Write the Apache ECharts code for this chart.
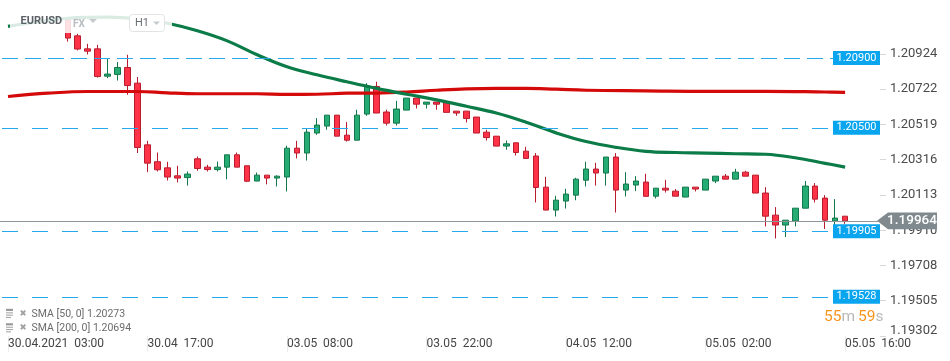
<!DOCTYPE html>
<html>
<head>
<meta charset="utf-8">
<script src="https://cdn.jsdelivr.net/npm/echarts@6/dist/echarts.min.js"></script>
<style>
html,body{margin:0;padding:0;background:#fff;}
#main{width:950px;height:361px;}
</style>
</head>
<body>
<div id="main"></div>
<script>
// ---------- DATA ----------
const categories = [
 "30.04 03:00","30.04 04:00","30.04 05:00","30.04 06:00","30.04 07:00","30.04 08:00","30.04 09:00","30.04 10:00",
 "30.04 11:00","30.04 12:00","30.04 13:00","30.04 14:00","30.04 15:00","30.04 16:00","30.04 17:00","30.04 18:00",
 "30.04 19:00","30.04 20:00","30.04 21:00","30.04 22:00",
 "03.05 00:00","03.05 01:00","03.05 02:00","03.05 03:00","03.05 04:00","03.05 05:00","03.05 06:00","03.05 07:00",
 "03.05 08:00","03.05 09:00","03.05 10:00","03.05 11:00","03.05 12:00","03.05 13:00","03.05 14:00","03.05 15:00",
 "03.05 16:00","03.05 17:00","03.05 18:00","03.05 19:00","03.05 20:00","03.05 21:00","03.05 22:00","03.05 23:00",
 "04.05 00:00","04.05 01:00","04.05 02:00","04.05 03:00","04.05 04:00","04.05 05:00","04.05 06:00","04.05 07:00",
 "04.05 08:00","04.05 09:00","04.05 10:00","04.05 11:00","04.05 12:00","04.05 13:00","04.05 14:00","04.05 15:00",
 "04.05 16:00","04.05 17:00","04.05 18:00","04.05 19:00","04.05 20:00","04.05 21:00","04.05 22:00","04.05 23:00",
 "05.05 00:00","05.05 01:00","05.05 02:00","05.05 03:00","05.05 04:00","05.05 05:00","05.05 06:00","05.05 07:00",
 "05.05 08:00","05.05 09:00","05.05 10:00","05.05 11:00","05.05 12:00","05.05 13:00","05.05 14:00","05.05 15:00",
 "05.05 16:00","05.05 17:00","05.05 18:00","05.05 19:00"
];
const xTickLabels = ["30.04.2021  03:00","30.04  17:00","03.05  08:00","03.05  22:00","04.05  12:00","05.05  02:00","05.05  16:00"];
const yTickValues = [1.19302,1.19505,1.19708,1.19910,1.20113,1.20316,1.20519,1.20722,1.20924];

const open = [null,null,null,null,null,null,
 1.21120,1.21028,1.20953,1.20953,1.20796,1.20806,1.20846,1.20756,1.20401,1.20304,
 1.20269,1.20223,1.20213,1.20321,1.20273,1.20259,1.20273,1.20344,1.20281,1.20193,
 1.20227,1.20210,1.20216,1.20382,1.20354,1.20469,1.20509,1.20572,1.20457,1.20428,
 1.20578,1.20737,1.20590,1.20526,1.20601,1.20670,1.20635,1.20647,1.20646,1.20595,
 1.20595,1.20561,1.20474,1.20451,1.20394,1.20413,1.20365,1.20337,1.20158,1.20026,
 1.20078,1.20112,1.20198,1.20262,1.20239,1.20331,1.20141,1.20170,1.20187,1.20106,
 1.20152,1.20135,1.20101,1.20158,1.20141,1.20193,1.20221,1.20204,1.20244,1.20227,
 1.20124,1.19997,1.19940,1.19964,1.20037,1.20164,1.20095,1.19964,1.19991];
const close = [null,null,null,null,null,null,
 1.21015,1.20952,1.20940,1.20794,1.20808,1.20846,1.20742,1.20386,1.20296,1.20258,
 1.20216,1.20210,1.20233,1.20265,1.20259,1.20273,1.20344,1.20273,1.20192,1.20227,
 1.20210,1.20221,1.20382,1.20354,1.20474,1.20515,1.20572,1.20451,1.20428,1.20572,
 1.20741,1.20584,1.20526,1.20607,1.20670,1.20635,1.20647,1.20635,1.20588,1.20584,
 1.20553,1.20469,1.20443,1.20394,1.20407,1.20357,1.20323,1.20156,1.20026,1.20083,
 1.20118,1.20204,1.20262,1.20239,1.20331,1.20141,1.20176,1.20193,1.20105,1.20152,
 1.20141,1.20106,1.20158,1.20147,1.20204,1.20221,1.20204,1.20244,1.20221,1.20124,
 1.19991,1.19940,1.19968,1.20037,1.20164,1.20089,1.19968,1.19980,1.19964];
const low = [null,null,null,null,null,null,
 1.20995,1.20944,1.20921,1.20788,1.20785,1.20771,1.20689,1.20354,1.20244,1.20248,
 1.20196,1.20185,1.20167,1.20252,1.20248,1.20248,1.20203,1.20273,1.20187,1.20192,
 1.20174,1.20162,1.20133,1.20323,1.20311,1.20459,1.20488,1.20451,1.20420,1.20428,
 1.20568,1.20584,1.20512,1.20512,1.20601,1.20610,1.20610,1.20603,1.20588,1.20568,
 1.20530,1.20469,1.20426,1.20394,1.20373,1.20340,1.20323,1.20070,1.20026,1.19989,
 1.20035,1.20083,1.20162,1.20167,1.20167,1.20012,1.20104,1.20135,1.20105,1.20093,
 1.20127,1.20106,1.20101,1.20133,1.20141,1.20181,1.20204,1.20204,1.20221,1.20124,
 1.19932,1.19863,1.19871,1.19932,1.20037,1.20070,1.19917,1.19936,1.19947];
const high = [null,null,null,null,null,null,
 1.21132,1.21040,1.20982,1.20976,1.20900,1.20877,1.20919,1.20791,1.20424,1.20357,
 1.20304,1.20281,1.20248,1.20334,1.20286,1.20305,1.20344,1.20357,1.20281,1.20242,
 1.20227,1.20226,1.20396,1.20424,1.20492,1.20555,1.20572,1.20572,1.20532,1.20603,
 1.20756,1.20764,1.20603,1.20654,1.20670,1.20670,1.20647,1.20647,1.20646,1.20595,
 1.20595,1.20561,1.20488,1.20451,1.20426,1.20413,1.20390,1.20354,1.20217,1.20108,
 1.20148,1.20212,1.20304,1.20298,1.20331,1.20354,1.20244,1.20221,1.20235,1.20152,
 1.20200,1.20147,1.20158,1.20158,1.20204,1.20221,1.20233,1.20263,1.20252,1.20227,
 1.20158,1.20043,1.19968,1.20037,1.20193,1.20181,1.20112,1.20089,1.19991];

// SMA readings: [candle index, value]
const sma50 = [[0,1.21082],[3,1.21109],[6,1.21129],[10,1.21135],[13,1.21126],[16,1.21100],[19,1.21057],
 [22,1.20999],[25,1.20919],[28,1.20850],[31,1.20804],[34,1.20764],[37,1.20726],[40,1.20692],[43,1.20660],
 [46,1.20623],[49,1.20584],[52,1.20531],[55,1.20470],[58,1.20420],[61,1.20387],[64,1.20364],[67,1.20357],
 [70,1.20354],[73,1.20350],[76,1.20347],[79,1.20327],[82,1.20295],[84,1.20273]];
const sma200 = [[0,1.20679],[4,1.20698],[8,1.20708],[13,1.20708],[16,1.20700],[19,1.20695],[25,1.20695],
 [28,1.20691],[31,1.20692],[34,1.20698],[37,1.20699],[40,1.20705],[43,1.20715],[46,1.20723],[49,1.20726],
 [52,1.20726],[55,1.20721],[58,1.20715],[64,1.20712],[70,1.20709],[76,1.20709],[82,1.20705],[84,1.20703]];

const priceLevels = [1.20900,1.20500,1.19905,1.19528];
const levelDash = [[16,7],[16,14],[16,14],[16,14]];
const lastPrice = 1.19964;
const legendTexts = ["SMA [50, 0] 1.20273","SMA [200, 0] 1.20694"];

// ---------- CHART ----------
const candleData = open.map((o,i)=> o===null ? ['-','-','-','-'] : [o, close[i], low[i], high[i]]);

const chart = echarts.init(document.getElementById('main'), null, {renderer:'canvas'});
const FONT = 'Roboto, "Noto Sans", sans-serif';

chart.setOption({
  animation:false,
  backgroundColor:'#ffffff',
  grid:{left:3, right:70, top:0, height:336},
  xAxis:{
    type:'category', data:categories, boundaryGap:true,
    axisLine:{show:false},
    axisTick:{show:true, alignWithLabel:true, length:16,
      interval:(i)=> i%14===0 && i<=84, lineStyle:{color:'#ececec'}},
    axisLabel:{interval:(i)=> i%14===0 && i<=84, align:'left', margin:2,
      color:'#454545', fontSize:12, fontFamily:FONT,
      formatter:(v,i)=> xTickLabels[Math.round(i/14)] || ''},
    splitLine:{show:false}
  },
  yAxis:{
    type:'value', position:'right', min:1.19302, max:1.21234, scale:true,
    axisLine:{show:false},
    splitLine:{show:false},
    axisTick:{show:true, length:6, customValues:yTickValues, lineStyle:{color:'#d8d8d8'}},
    axisLabel:{customValues:yTickValues, margin:10, color:'#4a4a4a', fontSize:13, fontFamily:FONT,
      formatter:(v)=> Math.abs(v-1.19302)<1e-7 ? '{b|'+v.toFixed(5)+'}' : v.toFixed(5),
      rich:{b:{color:'#4a4a4a', fontSize:13, fontFamily:FONT, padding:[0,0,10,0]}}}
  },
  series:[
    {
      type:'candlestick', name:'EURUSD', data:candleData, barWidth:6,
      itemStyle:{color:'#25ab74', color0:'#ff3348', borderColor:'#14774a', borderColor0:'#b81c2d', borderWidth:1},
      z:2
    },
    {type:'line', name:'SMA 200', data:sma200, showSymbol:false, smooth:0.4,
      lineStyle:{color:'#d40a0a', width:3.2}, z:3},
    {type:'line', name:'SMA 50', data:sma50, showSymbol:false, smooth:0.4,
      lineStyle:{color:'#0b7b47', width:3.2}, z:4}
  ]
});

// ---------- DECORATIONS (positioned through the chart's own scales) ----------
const py = (v)=> chart.convertToPixel({yAxisIndex:0}, v);
const crisp = (y)=> Math.round(y) + 0.5;
const g = [];
priceLevels.forEach((p,k)=>{
  const y = py(p);
  g.push({type:'line', shape:{x1:2, y1:crisp(y), x2:833, y2:crisp(y)},
    style:{stroke:'#2aa8ec', lineWidth:1, lineDash:levelDash[k]}, z:50, silent:true});
  g.push({type:'rect', shape:{x:833, y:y-7, width:47, height:14}, style:{fill:'#0aa5ef'}, z:100});
  g.push({type:'text', x:856.5, y:y, style:{text:p.toFixed(5), fill:'#ffffff', fontSize:11, fontFamily:FONT, align:'center', verticalAlign:'middle'}, z:101});
});
{
  const y = py(lastPrice);
  g.push({type:'line', shape:{x1:0, y1:crisp(y), x2:878, y2:crisp(y)},
    style:{stroke:'#8f979b', lineWidth:1}, z:50, silent:true});
  g.push({type:'polygon', shape:{points:[[877,y],[888,y-8.3],[937,y-8.3],[937,y+8.3],[888,y+8.3]]}, style:{fill:'#808a8e'}, z:102});
  g.push({type:'text', x:912, y:y, style:{text:lastPrice.toFixed(5), fill:'#ffffff', fontSize:13.5, fontWeight:500, fontFamily:FONT, align:'center', verticalAlign:'middle'}, z:103});
}
// header overlay
g.push({type:'rect', shape:{x:10, y:8, width:162, height:25}, style:{fill:'rgba(255,255,255,0.85)'}, z:110});
g.push({type:'text', x:20.5, y:21.5, style:{text:'EURUSD', fill:'#5b6166', fontSize:11, fontWeight:'bold', fontFamily:FONT, verticalAlign:'middle'}, z:111});
g.push({type:'text', x:73, y:24, style:{text:'FX', fill:'#b7bcc1', fontSize:10, fontWeight:'bold', fontFamily:FONT, verticalAlign:'middle'}, z:111});
g.push({type:'polygon', shape:{points:[[89,19],[97,19],[93,23]]}, style:{fill:'#c6cacd'}, z:111});
g.push({type:'rect', shape:{x:129.5, y:14.5, width:35, height:17, r:3}, style:{fill:'#ffffff', stroke:'#e1e3e5', lineWidth:1}, z:111});
g.push({type:'text', x:135, y:23.5, style:{text:'H1', fill:'#6b7075', fontSize:11, fontFamily:FONT, verticalAlign:'middle'}, z:112});
g.push({type:'polygon', shape:{points:[[153,21.5],[160,21.5],[156.5,25]]}, style:{fill:'#c6cacd'}, z:112});
// legend bottom-left
legendTexts.forEach((t,k)=>{
  const yc = 314.3 + k*14.4;
  g.push({type:'rect', shape:{x:6, y:yc-5.5, width:7, height:2.2}, style:{fill:'#9a9a9a'}, z:120});
  g.push({type:'rect', shape:{x:6, y:yc-2, width:7, height:1.1}, style:{fill:'#a8a8a8'}, z:120});
  g.push({type:'rect', shape:{x:6, y:yc+0.3, width:7, height:1.1}, style:{fill:'#a8a8a8'}, z:120});
  g.push({type:'rect', shape:{x:6, y:yc+2.6, width:5, height:1.1}, style:{fill:'#a8a8a8'}, z:120});
  g.push({type:'text', x:19.5, y:yc-0.5, style:{text:'\u2716', fill:'#a0a0a0', fontSize:8.5, fontFamily:'"DejaVu Sans", sans-serif', verticalAlign:'middle'}, z:120});
  g.push({type:'text', x:31.5, y:yc, style:{text:t, fill:'#6b6b6b', fontSize:10.5, fontFamily:FONT, verticalAlign:'middle'}, z:120});
});
// countdown
g.push({type:'text', x:824, y:317, style:{
  text:'{o|55}{g|m} {o|59}{g|s}', fontFamily:FONT, verticalAlign:'middle',
  rich:{o:{fill:'#f7941d', fontSize:15.5, fontFamily:FONT}, g:{fill:'#b9b9b9', fontSize:15.5, fontFamily:FONT}}}, z:120});

chart.setOption({graphic:g});
</script>
</body>
</html>
